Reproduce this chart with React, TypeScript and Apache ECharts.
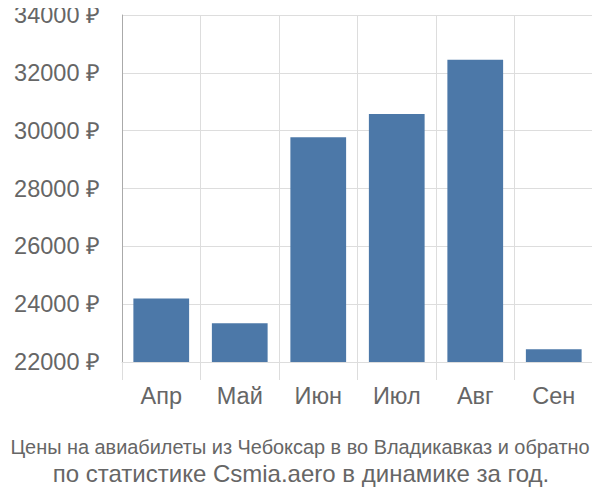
import React, { useEffect, useRef } from "react";
import * as echarts from "echarts";

const categories = ["Апр", "Май", "Июн", "Июл", "Авг", "Сен"];
const prices = [24200, 23340, 29770, 30575, 32450, 22440];
const titleLine1 = "Цены на авиабилеты из Чебоксар в во Владикавказ и обратно";
const titleLine2 = "по статистике Csmia.aero в динамике за год.";

export default function App() {
  const ref = useRef<HTMLDivElement>(null);
  useEffect(() => {
    const chart = echarts.init(ref.current!, null, { renderer: "svg" });
    const font = "'Liberation Sans', Arial, sans-serif";
    chart.setOption({
      animation: false,
      grid: { left: 122, right: 7, top: 15, bottom: 138, containLabel: false },
      xAxis: {
        type: "category",
        data: categories,
        boundaryGap: true,
        axisLine: { show: true, lineStyle: { color: "#dddddd" } },
        axisTick: { show: true, length: 18, lineStyle: { color: "#dddddd" } },
        splitLine: { show: true, lineStyle: { color: "#dddddd" } },
        axisLabel: { color: "#666666", fontSize: 23.5, fontFamily: font, margin: 22 },
      },
      yAxis: {
        type: "value",
        min: 22000,
        max: 34000,
        interval: 2000,
        axisLine: { show: true, lineStyle: { color: "#aaaaaa" } },
        axisTick: { show: false },
        splitLine: { show: true, lineStyle: { color: "#dddddd" } },
        axisLabel: {
          color: "#666666",
          fontSize: 23.5,
          fontFamily: font,
          margin: 22,
          formatter: (v: number) => `${v} ₽`,
        },
      },
      series: [
        {
          type: "bar",
          data: prices,
          barCategoryGap: "29%",
          itemStyle: { color: "#4c78a8" },
        },
      ],
      graphic: [
        {
          type: "text",
          x: 300,
          y: 447,
          style: {
            text: titleLine1,
            fill: "#666666",
            fontSize: 19.9,
            fontFamily: font,
            align: "center",
            verticalAlign: "middle",
          },
        },
        {
          type: "text",
          x: 301,
          y: 473,
          style: {
            text: titleLine2,
            fill: "#666666",
            fontSize: 24,
            fontFamily: font,
            align: "center",
            verticalAlign: "middle",
          },
        },
      ],
    });
    return () => chart.dispose();
  }, []);
  return <div ref={ref} style={{ width: 600, height: 500, margin: -8 }} />;
}
